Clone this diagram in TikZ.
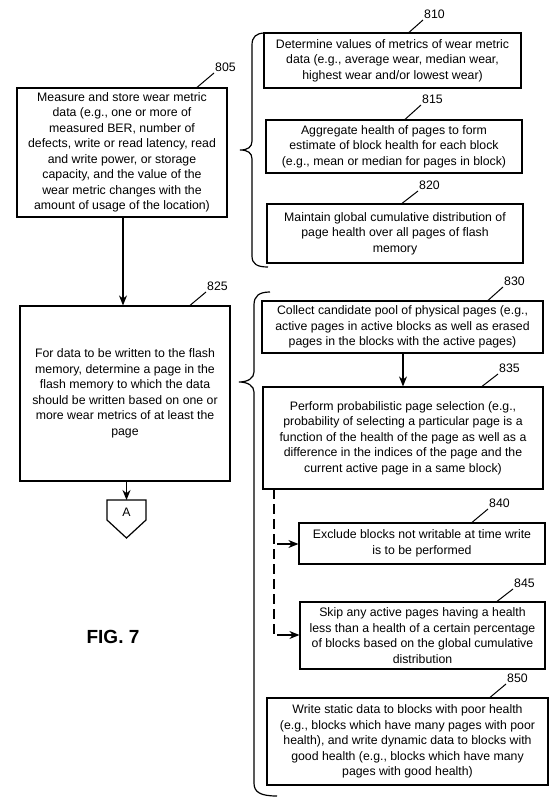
\documentclass[tikz,border=0pt]{standalone}
\usepackage{fontspec}
\setmainfont{Liberation Sans}
\usetikzlibrary{arrows.meta}
\tikzset{
  box/.style={draw, line width=1.2pt, rectangle, align=center, inner sep=0pt,
    font=\fontsize{12.3}{15.5}\selectfont},
  num/.style={font=\fontsize{12.3}{14}\selectfont, inner sep=1pt},
  lead/.style={line width=1pt},
  flow/.style={line width=1.2pt, -{Stealth[length=10pt,width=8pt]}},
  brace/.style={line width=1.2pt},
  dashline/.style={line width=1.2pt, dash pattern=on 10pt off 5pt},
}
\begin{document}
\begin{tikzpicture}[x=1pt,y=-1pt]
\useasboundingbox (0,0) rectangle (555,805);

% boxes
\node[box, minimum width=210, minimum height=129] (b805) at (122,152.5)
 {Measure and store wear metric\\data (e.g., one or more of\\measured BER, number of\\defects, write or read latency, read\\and write power, or storage\\capacity, and the value of the\\wear metric changes with the\\amount of usage of the location)};
\node[box, minimum width=257, minimum height=55] (b810) at (392.5,60.5)
 {Determine values of metrics of wear metric\\data (e.g., average wear, median wear,\\highest wear and/or lowest wear)};
\node[box, minimum width=256, minimum height=53] (b815) at (394,146.5)
 {Aggregate health of pages to form\\estimate of block health for each block\\(e.g., mean or median for pages in block)};
\node[box, minimum width=256, minimum height=59] (b820) at (395,233.5)
 {Maintain global cumulative distribution of\\page health over all pages of flash\\memory};
\node[box, minimum width=210, minimum height=175] (b825) at (125,393.5)
 {For data to be written to the flash\\memory, determine a page in the\\flash memory to which the data\\should be written based on one or\\more wear metrics of at least the\\page};
\node[box, minimum width=281, minimum height=52] (b830) at (402.5,327)
 {Collect candidate pool of physical pages (e.g.,\\active pages in active blocks as well as erased\\pages in the blocks with the active pages)};
\node[box, minimum width=280, minimum height=102] (b835) at (403,438)
 {Perform probabilistic page selection (e.g.,\\probability of selecting a particular page is a\\function of the health of the page as well as a\\difference in the indices of the page and the\\current active page in a same block)};
\node[box, minimum width=246, minimum height=41] (b840) at (422,543.5)
 {Exclude blocks not writable at time write\\is to be performed};
\node[box, minimum width=245, minimum height=67] (b845) at (422.5,635.5)
 {Skip any active pages having a health\\less than a health of a certain percentage\\of blocks based on the global cumulative\\distribution};
\node[box, minimum width=281, minimum height=87] (b850) at (407.5,741.5)
 {Write static data to blocks with poor health\\(e.g., blocks which have many pages with poor\\health), and write dynamic data to blocks with\\good health (e.g., blocks which have many\\pages with good health)};

% labels
\node[num, anchor=south west] (l805) at (214,73) {805};
\node[num, anchor=south west] (l810) at (423,20) {810};
\node[num, anchor=south west] (l815) at (421,105) {815};
\node[num, anchor=south west] (l820) at (418,191) {820};
\node[num, anchor=south west] (l825) at (206,292) {825};
\node[num, anchor=south west] (l830) at (503,287) {830};
\node[num, anchor=south west] (l835) at (498,374) {835};
\node[num, anchor=south west] (l840) at (488,509) {840};
\node[num, anchor=south west] (l845) at (513,589) {845};
\node[num, anchor=south west] (l850) at (506,684) {850};

\draw[lead] ([xshift=75pt]b805.north) -- (l805.south west);
\draw[lead] ([xshift=16.5pt]b810.north) -- (l810.south west);
\draw[lead] ([xshift=11pt]b815.north) -- (l815.south west);
\draw[lead] ([xshift=7pt]b820.north) -- (l820.south west);
\draw[lead] ([xshift=65pt]b825.north) -- (l825.south west);
\draw[lead] ([xshift=85.5pt]b830.north) -- (l830.south west);
\draw[lead] ([xshift=79pt]b835.north) -- (l835.south west);
\draw[lead] ([xshift=50pt]b840.north) -- (l840.south west);
\draw[lead] ([xshift=74.5pt]b845.north) -- (l845.south west);
\draw[lead] ([xshift=82.5pt]b850.north) -- (l850.south west);

% off-page connector A
\node[font=\fontsize{12.3}{14}\selectfont, inner sep=0pt] (A) at (126.5,512) {A};
\coordinate (Atop) at (126.5,500);
\draw[line width=1.2pt] (107,500) -- (146,500) -- (146,520) -- (126.5,538) -- (107,520) -- cycle;

% flow arrows
\draw[flow] (b805.south -| 123,0) -- (b825.north -| 123,0);
\draw[flow] (b825.south -| Atop) -- (Atop);
\draw[flow] (b830.south -| 403,0) -- (b835.north -| 403,0);

% dashed branch
\coordinate (d0) at (274,489);
\coordinate (d1) at (274,544);
\coordinate (d2) at (274,635);
\draw[dashline] (d0) -- (274,638);
\draw[flow] ([xshift=3pt]d1) -- (b840.west |- d1);
\draw[flow] ([xshift=3pt]d2) -- (b845.west |- d2);

% braces
\draw[brace] (265,33) .. controls (256,33) and (252,37) .. (252,45) -- (252,141)
  .. controls (252,147) and (248,150) .. (240,150)
  .. controls (248,150) and (252,153) .. (252,159) -- (252,256)
  .. controls (252,264) and (257,267) .. (268,267);
\draw[brace] (270,292) .. controls (259,292) and (254,296) .. (254,305) -- (254,372)
  .. controls (254,378) and (248,382) .. (239,382)
  .. controls (248,382) and (254,386) .. (254,392) -- (254,783)
  .. controls (254,792) and (260,796) .. (277,796);

% caption
\node[font=\bfseries\fontsize{19}{22}\selectfont, inner sep=0pt] (fig) at (113,637) {FIG. 7};
\end{tikzpicture}
\end{document}
